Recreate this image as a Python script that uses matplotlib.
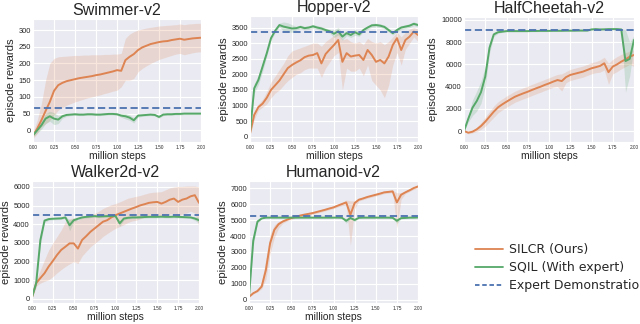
import matplotlib
matplotlib.use('Agg')
import matplotlib.pyplot as plt
import seaborn as sns
import numpy as np

sns.set_style('darkgrid')
plt.rcParams['font.family'] = ['Liberation Sans', 'DejaVu Sans']

ORANGE = '#dd8452'
GREEN = '#55a868'
BLUE = '#4c72b0'

steps = [0.0, 0.05, 0.1, 0.15, 0.2, 0.25, 0.3, 0.35, 0.4, 0.45, 0.5, 0.55, 0.6, 0.65, 0.7,
         0.75, 0.8, 0.85, 0.9, 0.95, 1.0, 1.05, 1.1, 1.15, 1.2, 1.25, 1.3, 1.35, 1.4, 1.45,
         1.5, 1.55, 1.6, 1.65, 1.7, 1.75, 1.8, 1.85, 1.9, 1.95, 2.0]
xtick_labels = ['0.00', '0.25', '0.50', '0.75', '1.00', '1.25', '1.50', '1.75', '2.00']

# ---------------- Swimmer ----------------
sw_silcr = [-15, 5, 30, 58, 85, 118, 135, 142, 147, 150, 153, 156, 158, 160, 162, 165, 167, 170, 173, 176,
            180, 178, 210, 220, 228, 240, 248, 253, 258, 261, 264, 266, 267, 270, 272, 274, 271, 273, 275, 276, 277]
sw_silcr_hi = [-5, 30, 80, 150, 200, 215, 220, 221, 222, 223, 224, 224, 225, 225, 226, 226, 226, 227, 227, 228,
               228, 230, 275, 288, 295, 300, 303, 306, 308, 310, 312, 313, 314, 315, 316, 318, 316, 318, 319, 320, 320]
sw_silcr_lo = [-25, -10, 10, 20, 30, 45, 60, 68, 75, 80, 85, 89, 93, 97, 100, 103, 106, 110, 113, 117,
               120, 130, 150, 150, 155, 175, 185, 193, 200, 206, 212, 216, 220, 224, 228, 230, 226, 229, 232, 234, 235]
sw_sqil = [-15, 0, 15, 35, 42, 35, 32, 42, 46, 47, 48, 47, 47, 48, 48, 47, 47, 48, 49, 49,
           48, 44, 42, 38, 30, 44, 45, 46, 47, 46, 40, 47, 48, 48, 49, 49, 50, 50, 50, 50, 50]
sw_sqil_sd = [5, 8, 12, 15, 15, 18, 12, 6, 4, 3, 3, 3, 3, 3, 3, 3, 3, 3, 3, 3,
              3, 5, 8, 8, 8, 5, 3, 3, 3, 3, 4, 3, 3, 3, 3, 3, 3, 3, 3, 3, 3]
sw_expert = 68

# ---------------- Hopper ----------------
ho_silcr = [100, 700, 950, 1060, 1250, 1500, 1650, 1800, 2000, 2200, 2300, 2380, 2450, 2550, 2600, 2620, 2680, 2350, 2650, 2800,
            2940, 3100, 2400, 2680, 2570, 2600, 2620, 2460, 2780, 2620, 2400, 2460, 2350, 2570, 2940, 3160, 2780, 3100, 3210, 3370, 3260]
ho_silcr_hi = [150, 800, 1050, 1200, 1450, 1750, 1950, 2150, 2350, 2600, 2750, 2800, 2850, 2900, 2950, 3000, 3000, 2900, 3050, 3150,
               3250, 3350, 3100, 3150, 3050, 3000, 3050, 2950, 3150, 3050, 3000, 3050, 2950, 3050, 3200, 3350, 3200, 3350, 3450, 3500, 3450]
ho_silcr_lo = [50, 550, 850, 950, 1050, 1250, 1400, 1500, 1650, 1800, 1900, 2000, 2050, 2150, 2200, 2200, 2200, 1900, 2200, 2400,
               2600, 2700, 1500, 2200, 2100, 2100, 2200, 1950, 2300, 1800, 1650, 1500, 1250, 1650, 2300, 2700, 2300, 2800, 3000, 3200, 3050]
ho_sqil = [150, 1550, 1820, 2250, 2680, 3160, 3400, 3580, 3530, 3500, 3470, 3480, 3520, 3480, 3500, 3540, 3500, 3470, 3420, 3380,
           3300, 3380, 3210, 3320, 3260, 3350, 3280, 3420, 3500, 3570, 3580, 3560, 3520, 3420, 3320, 3420, 3500, 3530, 3560, 3620, 3580]
ho_sqil_sd = [50, 150, 150, 150, 100, 80, 60, 60, 150, 150, 120, 60, 60, 60, 60, 60, 60, 60, 60, 60,
              120, 120, 120, 80, 80, 100, 60, 60, 60, 60, 60, 60, 60, 60, 60, 60, 60, 60, 60, 60, 60]
ho_expert = 3370

# ---------------- HalfCheetah ----------------
hc_silcr = [0, -150, -60, 150, 450, 840, 1290, 1740, 2130, 2400, 2640, 2870, 3090, 3250, 3400, 3540, 3700, 3850, 3990, 4150,
            4290, 4450, 4590, 4500, 4850, 5050, 5150, 5250, 5350, 5500, 5650, 5750, 5860, 6100, 5300, 5800, 6000, 6250, 6450, 6700, 6850]
hc_silcr_hi = [50, -50, 50, 350, 750, 1250, 1750, 2250, 2630, 2900, 3140, 3370, 3590, 3750, 3900, 4040, 4200, 4350, 4490, 4650,
               4790, 4950, 5100, 5150, 5350, 5550, 5650, 5750, 5850, 6000, 6150, 6250, 6400, 6650, 6100, 6450, 6700, 6900, 7050, 7200, 7300]
hc_silcr_lo = [-50, -250, -170, -50, 150, 430, 830, 1230, 1630, 1900, 2140, 2370, 2590, 2750, 2900, 3040, 3200, 3350, 3490, 3650,
               3790, 3950, 4000, 3600, 4350, 4550, 4650, 4750, 4850, 5000, 5150, 5250, 5300, 5500, 4200, 5150, 5350, 5600, 5800, 6000, 5800]
hc_sqil = [0, 1100, 2100, 2700, 3500, 4900, 7500, 8700, 8900, 8950, 9000, 9000, 9000, 9000, 9000, 9000, 9010, 9010, 9020, 9020,
           9020, 9030, 9030, 9030, 9040, 9040, 9040, 9050, 9050, 9050, 9150, 9180, 9150, 9160, 9180, 9180, 9180, 9150, 6300, 6500, 8200]
hc_sqil_sd = [50, 300, 700, 900, 1000, 900, 500, 200, 100, 60, 60, 60, 60, 60, 60, 60, 60, 60, 60, 60,
              60, 60, 60, 60, 60, 60, 60, 60, 60, 60, 60, 60, 60, 60, 60, 60, 60, 80, 2800, 1500, 400]
hc_expert = 9130

# ---------------- Walker2d ----------------
wa_silcr = [100, 850, 1120, 1380, 1740, 2040, 2360, 2630, 2800, 2980, 2980, 2700, 3160, 3370, 3600, 3780, 3960, 4140, 4220, 4370,
            4490, 4580, 4670, 4760, 4850, 4930, 5020, 5080, 5150, 5180, 5200, 5110, 5200, 5320, 5380, 5200, 5320, 5380, 5500, 5560, 5150]
wa_silcr_hi = [150, 1000, 1560, 2100, 2630, 3000, 3350, 3700, 4140, 4300, 4350, 4200, 4400, 4480, 4540, 4580, 4700, 4850, 4950, 5050,
               5110, 5200, 5300, 5400, 5450, 5500, 5550, 5620, 5680, 5720, 5730, 5750, 5850, 5950, 6000, 6030, 6030, 6050, 6050, 6050, 6000]
wa_silcr_lo = [50, 700, 850, 950, 1030, 1200, 1400, 1580, 1740, 1880, 2000, 1900, 2300, 2550, 2800, 2980, 3150, 3350, 3500, 3650,
               3780, 3880, 3980, 4100, 4180, 4220, 4300, 4380, 4430, 4460, 4490, 4400, 4500, 4550, 4580, 4450, 4550, 4600, 4700, 4600, 3870]
wa_sqil = [100, 850, 3150, 4200, 4280, 4300, 4310, 4320, 4370, 3950, 4220, 4300, 4370, 4400, 4420, 4440, 4420, 4430, 4440, 4440,
           4440, 4050, 4310, 4350, 4370, 4370, 4380, 4390, 4400, 4400, 4400, 4410, 4400, 4400, 4410, 4400, 4390, 4380, 4370, 4310, 4220]
wa_sqil_sd = [50, 200, 300, 100, 60, 60, 60, 60, 60, 300, 100, 60, 60, 60, 60, 60, 60, 60, 60, 60,
              60, 150, 80, 60, 60, 60, 60, 60, 60, 60, 60, 60, 60, 60, 60, 60, 60, 60, 60, 100, 150]
wa_expert = 4520

# ---------------- Humanoid ----------------
hu_silcr = [200, 420, 560, 840, 1880, 3550, 4390, 4740, 4910, 5020, 5120, 5200, 5270, 5330, 5380, 5430, 5500, 5570, 5640, 5720,
            5790, 5900, 6000, 6100, 5330, 6060, 6270, 6350, 6440, 6510, 6580, 6650, 6730, 6760, 6790, 6100, 6580, 6730, 6860, 7000, 7100]
hu_silcr_hi = [250, 470, 620, 1100, 2600, 4100, 4700, 4900, 5000, 5100, 5200, 5280, 5350, 5410, 5460, 5510, 5580, 5650, 5720, 5800,
               5870, 5980, 6100, 6250, 6200, 6200, 6350, 6430, 6520, 6590, 6660, 6730, 6810, 6840, 6870, 6700, 6700, 6810, 6940, 7080, 7180]
hu_silcr_lo = [150, 370, 500, 700, 1300, 2900, 3900, 4500, 4800, 4940, 5040, 5120, 5190, 5250, 5300, 5350, 5420, 5490, 5560, 5640,
               5710, 5820, 5900, 5950, 3400, 5700, 6190, 6270, 6360, 6430, 6500, 6570, 6650, 6680, 6710, 4500, 6300, 6650, 6780, 6920, 7020]
hu_sqil = [200, 3700, 4900, 5100, 5150, 5150, 5150, 5150, 5150, 5150, 5150, 5150, 5150, 5150, 5150, 5150, 5150, 5150, 5150, 5150,
           5150, 5150, 5140, 4950, 5130, 5000, 5140, 5150, 5150, 5150, 5150, 5150, 5150, 5150, 5140, 4950, 5120, 5130, 5150, 5150, 5160]
hu_sqil_sd = [50, 300, 100, 30, 30, 30, 30, 30, 30, 30, 30, 30, 30, 30, 30, 30, 30, 30, 30, 30,
              30, 30, 30, 150, 50, 100, 30, 30, 30, 30, 30, 30, 30, 30, 30, 150, 50, 30, 30, 30, 30]
hu_expert = 5230

W, H = 640, 324
fig = plt.figure(figsize=(W / 100, H / 100), dpi=100)


def make_ax(l, t, r, b):
    return fig.add_axes([l / W, 1 - b / H, (r - l) / W, (b - t) / H])


panels = [
    ('Swimmer-v2', (33, 19, 201, 142), sw_silcr, sw_silcr_lo, sw_silcr_hi, sw_sqil, sw_sqil_sd, sw_expert,
     (-35, 333), np.arange(0, 301, 50)),
    ('Hopper-v2', (250, 16, 418, 142), ho_silcr, ho_silcr_lo, ho_silcr_hi, ho_sqil, ho_sqil_sd, ho_expert,
     (-170, 3870), np.arange(0, 3501, 500)),
    ('HalfCheetah-v2', (464, 17, 634, 142), hc_silcr, hc_silcr_lo, hc_silcr_hi, hc_sqil, hc_sqil_sd, hc_expert,
     (-990, 10270), np.arange(0, 10001, 2000)),
    ('Walker2d-v2', (32, 181, 199, 303), wa_silcr, wa_silcr_lo, wa_silcr_hi, wa_sqil, wa_sqil_sd, wa_expert,
     (-215, 6320), np.arange(0, 6001, 1000)),
    ('Humanoid-v2', (249, 181, 418, 303), hu_silcr, hu_silcr_lo, hu_silcr_hi, hu_sqil, hu_sqil_sd, hu_expert,
     (-190, 7440), np.arange(0, 7001, 1000)),
]

x = np.array(steps)
for title, box, s, slo, shi, q, qsd, exp, ylim, yt in panels:
    ax = make_ax(*box)
    q = np.array(q, float)
    qsd = np.array(qsd, float)
    ax.fill_between(x, slo, shi, color=ORANGE, alpha=0.2, lw=0)
    ax.fill_between(x, q - qsd, q + qsd, color=GREEN, alpha=0.2, lw=0)
    ax.plot(x, s, color=ORANGE, lw=1.4)
    ax.plot(x, q, color=GREEN, lw=1.4)
    ax.axhline(exp, color=BLUE, lw=1.3, ls=(0, (4, 2)))
    ax.set_xlim(0, 2)
    ax.set_ylim(*ylim)
    ax.set_yticks(yt)
    ax.set_xticks(np.arange(0, 2.01, 0.25))
    ax.set_xticklabels(xtick_labels)
    ax.tick_params(axis='y', labelsize=5.4, pad=1.5, length=0)
    ax.tick_params(axis='x', labelsize=3.4, pad=2, length=0)
    ax.set_title(title, fontsize=11.5, pad=3)
    ax.set_ylabel('episode rewards', fontsize=8.2, labelpad=2)
    ax.set_xlabel('million steps', fontsize=7.4, labelpad=1)

handles = [
    plt.Line2D([], [], color=ORANGE, lw=1.3),
    plt.Line2D([], [], color=GREEN, lw=1.3),
    plt.Line2D([], [], color=BLUE, lw=1.3, ls=(0, (2.5, 1.5))),
]
labels = ['SILCR (Ours)', 'SQIL (With expert)', 'Expert Demonstration']
fig.legend(handles, labels, loc='upper left', bbox_to_anchor=(475 / W, 1 - 243 / H),
           frameon=False, borderpad=0, borderaxespad=0, handlelength=2.2, handletextpad=0.55,
           labelspacing=0.4, prop={'family': 'DejaVu Sans', 'size': 9})

fig.savefig('out.png', dpi=100)
